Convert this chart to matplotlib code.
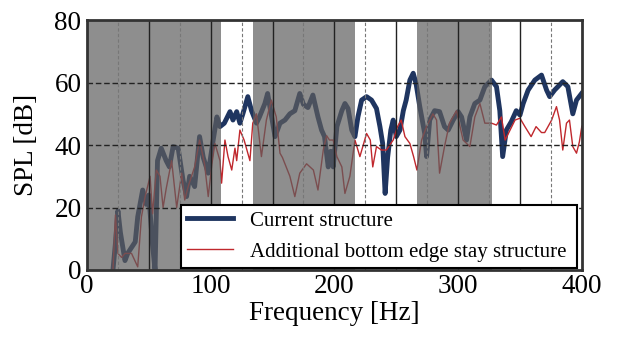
import numpy as np
import matplotlib.pyplot as plt

plt.rcParams['font.family'] = ['Liberation Serif', 'DejaVu Serif']

# Current structure (frequency Hz, SPL dB)
cur_f = [21, 23, 25, 27, 30.7, 33, 39, 41, 45, 48, 50, 53, 55, 57, 60, 64, 66.6, 69.6,
         73.7, 77.6, 80.5, 83, 87, 91, 94, 98, 102, 105, 107.5, 111, 115.6, 118, 121,
         123.6, 126, 130, 133, 137, 139.4, 143.8, 146, 149, 152, 156, 160, 164, 168,
         172, 175, 178.6, 182.6, 186.7, 189.6, 192, 195, 197, 199, 202, 206, 208.5,
         211, 214, 216.6, 219, 222, 226, 230, 234, 236.8, 239, 241, 243, 245.6, 247.5,
         250, 253, 255.7, 258, 261, 263.7, 266, 269, 273, 274.5, 277, 281, 285, 289,
         292, 296, 300, 302.8, 306.8, 309.5, 313.5, 317.6, 321.6, 327, 331, 333.7, 336,
         339, 343, 347, 350, 352.6, 356.6, 362, 367.4, 371.5, 374, 378, 384.6, 388.7,
         392.7, 395.7, 399.8]
cur_v = [0, 8.6, 19, 12, 3, 5.4, 9, 17, 25.6, 21, 24, 8, 0, 35, 39, 35, 33, 39.5,
         39, 28.8, 23.5, 30, 26.7, 42.7, 36, 31, 41.6, 49, 45.9, 47, 50.7, 48, 50.7,
         47, 50, 55.5, 51, 47, 49, 53.3, 56.5, 49.6, 42.7, 47, 48, 50, 51,
         56.5, 53, 52, 56, 49, 44.8, 42.7, 33, 38, 33, 45.9, 51, 53.3,
         51.7, 44.8, 42.7, 49, 54.4, 55.5, 54.4, 51.7, 45.9, 40.5, 24.5, 36, 44.8, 48,
         42.7, 44.8, 51, 54.4, 60.8, 63, 59.7, 52.3, 43.7, 36.3, 48, 51, 50.7, 45.9,
         44.8, 48, 50.7, 49, 41.6, 49, 53.3, 54.4, 58.7, 60.8, 58.7, 51, 36.3,
         44.8, 47.5, 51, 49.6, 53.3, 57.6, 60.8, 62.4, 57.6, 55.5, 57.6, 60.3, 58.7,
         50, 54.4, 56.5]

# Additional bottom edge stay structure
add_f = [21, 23, 25, 28, 30.7, 36, 41, 44, 47, 51, 53, 56, 59, 61.5, 64, 68.4, 72.5,
         76.5, 79, 82, 87, 91, 95, 98, 101, 103.4, 107.5, 108.8, 111.5, 114, 117,
         119.6, 121, 123.6, 127, 131.7, 134, 137, 141, 145, 149, 153, 156, 158, 164,
         168, 172, 177.5, 183, 186.7, 191, 193.7, 196, 199, 202, 206, 208.5, 212.5,
         216.6, 220.6, 226, 229, 231, 234, 238, 242, 247.5, 251, 254, 257, 261, 264,
         266.7, 270.5, 274.5, 279.6, 282.6, 285, 289, 293, 298.7, 304, 309.5, 313.5,
         317.6, 321.6, 327, 331, 335, 338, 342, 346, 350, 354, 359, 363, 367.4, 370,
         375.6, 379.5, 382, 384.6, 387.6, 390, 392.7, 395.7, 398, 400]
add_v = [0, 17.6, 5.3, 4, 5.3, 5.3, 1, 17, 23.5, 30, 18, 32, 30, 20, 26, 35, 20,
         31, 22.4, 27, 33, 41.6, 34, 23.5, 34, 40.5, 35, 27.8, 41.6, 36.3, 32,
         39, 35, 44.8, 41.6, 35, 47, 50, 36.3, 48, 54.4, 49, 37.4, 36, 30,
         23.5, 31, 34, 32, 25.6, 38.4, 43, 41.6, 41.6, 36.3, 33, 24.5, 30,
         41.6, 36.3, 43.7, 41.6, 33, 39.5, 38.4, 38.4, 41.6, 45.9, 48, 42.7, 40.5, 36.3,
         32, 41.6, 45.9, 50, 48, 31, 39.5, 47, 51, 41.6, 39.5, 49,
         53.3, 47, 47, 46.4, 49, 41.6, 44.8, 48, 48.6, 45.9, 42.7, 45.9, 44, 44,
         48, 52.3, 48, 38.4, 47, 48, 39.5, 37.4, 41, 46]

# shaded frequency bands
bands = [(0, 108), (134, 217), (267, 327)]

fig = plt.figure(figsize=(6.17, 3.47), dpi=100)
ax = fig.add_axes([0.141, 0.222, 0.802, 0.72])

ax.plot(cur_f, cur_v, color='#1f3560', lw=3.5, solid_joinstyle='round',
        label='Current structure', zorder=2)
ax.plot(add_f, add_v, color='#c0282d', lw=1.0, zorder=3,
        label='Additional bottom edge stay structure')

for a, b in bands:
    ax.axvspan(a, b, color='#5e5e5e', alpha=0.7, lw=0, zorder=4)

for x in range(50, 400, 50):
    ax.axvline(x, color='#222222', lw=1.0, zorder=5)
for x in range(25, 400, 50):
    ax.axvline(x, color='#777777', lw=0.8, ls=(0, (3, 2)), zorder=5)
for y in (20, 40, 60):
    ax.axhline(y, color='#222222', lw=1.0, ls=(0, (4, 2)), zorder=5)

ax.set_xlim(0, 400)
ax.set_ylim(0, 80)
ax.set_xticks([0, 100, 200, 300, 400])
ax.set_yticks([0, 20, 40, 60, 80])
ax.tick_params(length=0, labelsize=19.5)
ax.tick_params(axis='x', pad=3)
ax.tick_params(axis='y', pad=4)
ax.set_xlabel('Frequency [Hz]', fontsize=19.5, labelpad=1)
ax.set_ylabel('SPL [dB]', fontsize=19.5, labelpad=11)
for s in ax.spines.values():
    s.set_linewidth(2)
    s.set_color('#333333')
    s.set_zorder(6)

leg = ax.legend(loc='lower left', bbox_to_anchor=(0.19, 0.008, 0.8, 0.248),
                mode='expand', fontsize=15, frameon=True, fancybox=False,
                framealpha=1, edgecolor='black', borderpad=0.3,
                handlelength=2.2, handletextpad=0.8, labelspacing=0.55,
                borderaxespad=0)
leg.get_frame().set_linewidth(1.5)
leg.set_zorder(7)

fig.savefig('out.png', dpi=100)
